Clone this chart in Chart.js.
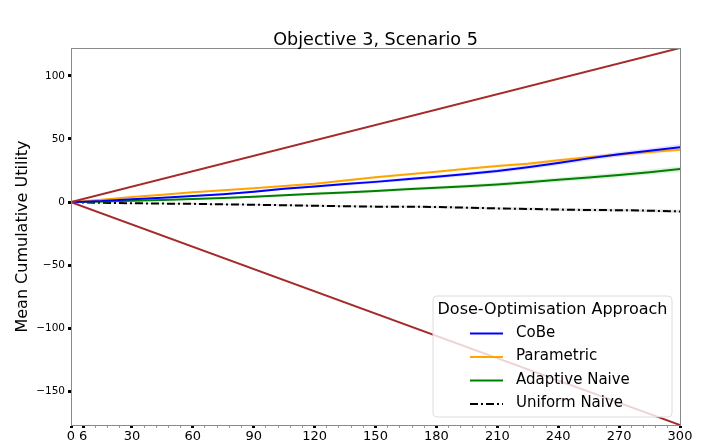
<!DOCTYPE html>
<html>
<head>
<meta charset="utf-8">
<script src="https://cdn.jsdelivr.net/npm/chart.js@4/dist/chart.umd.min.js"></script>
<style>
  html, body { margin: 0; padding: 0; background: #fff; }
  #wrap { width: 711px; height: 445px; }
</style>
</head>
<body>
<div id="wrap"><canvas id="c" width="711" height="445"></canvas></div>
<script>
// ---- data ----
const steps = [0, 6, 15, 30, 45, 60, 75, 90, 105, 120, 135, 150, 165, 180, 195, 210, 225, 240, 255, 270, 285, 300];
const cobe        = [0, 0.3, 0.8, 2.2, 3.4, 4.8, 6.3, 8.2, 10.6, 12.4, 14.3, 16.0, 18.0, 20.0, 22.2, 24.6, 27.6, 31.0, 34.6, 37.8, 40.6, 43.5];
const parametric  = [0, 0.6, 1.8, 4.0, 5.8, 7.8, 9.4, 11.0, 12.8, 14.6, 17.0, 19.6, 21.8, 24.0, 26.4, 28.5, 30.4, 33.2, 35.5, 37.6, 39.6, 41.5];
const adaptive    = [0, 0.1, 0.4, 1.0, 1.6, 2.4, 3.3, 4.3, 5.5, 6.6, 7.6, 8.8, 10.2, 11.3, 12.5, 14.0, 15.8, 17.6, 19.5, 21.4, 23.7, 26.2];
const uniform     = [0, -0.3, -0.6, -0.9, -1.2, -1.4, -1.8, -2.1, -2.5, -2.9, -3.3, -3.6, -3.6, -3.9, -4.4, -5.0, -5.4, -5.9, -6.3, -6.4, -6.8, -7.4];
// half-widths of the shaded uncertainty bands
const cobeBand      = [0, 0.2, 0.3, 0.4, 0.5, 0.6, 0.7, 0.8, 0.9, 1.0, 1.1, 1.2, 1.3, 1.4, 1.5, 1.6, 1.7, 1.8, 1.9, 2.0, 2.1, 2.2];
const parametricBand= [0, 0.2, 0.3, 0.4, 0.5, 0.6, 0.6, 0.7, 0.8, 0.8, 0.9, 1.0, 1.0, 1.1, 1.2, 1.2, 1.3, 1.4, 1.4, 1.5, 1.6, 1.6];
const adaptiveBand  = [0, 0.2, 0.3, 0.4, 0.5, 0.6, 0.7, 0.8, 0.9, 1.0, 1.1, 1.2, 1.3, 1.4, 1.5, 1.6, 1.7, 1.8, 1.9, 2.0, 2.1, 2.2];
const uniformBand   = [0, 0.2, 0.3, 0.4, 0.5, 0.6, 0.6, 0.7, 0.7, 0.8, 0.8, 0.9, 0.9, 1.0, 1.0, 1.0, 1.1, 1.1, 1.2, 1.2, 1.2, 1.3];
// reference bounds (brown lines)
const boundX     = [0, 300];
const upperBound = [0, 122];
const lowerBound = [0, -176.5];

const xMajorTicks = [0, 6, 30, 60, 90, 120, 150, 180, 210, 240, 270, 300];
const xMinorStep = 6;
const yTicks = [-150, -100, -50, 0, 50, 100];
const yMin = -176.5, yMax = 122;

const titleText = 'Objective 3, Scenario 5';
const yLabelText = 'Mean Cumulative Utility';
const legendTitle = 'Dose-Optimisation Approach';

// ---- build datasets ----
function pts(xs, ys) { return xs.map((x, i) => ({ x: x, y: ys[i] })); }
function band(vals, hw, sign) { return vals.map((v, i) => v + sign * hw[i]); }

const series = [
  { label: 'CoBe', vals: cobe, hw: cobeBand, color: '#0000ff', fill: 'rgba(0,0,255,0.12)', dash: [] },
  { label: 'Parametric', vals: parametric, hw: parametricBand, color: '#ffa500', fill: 'rgba(255,165,0,0.12)', dash: [] },
  { label: 'Adaptive Naive', vals: adaptive, hw: adaptiveBand, color: '#008000', fill: 'rgba(0,128,0,0.12)', dash: [] },
  { label: 'Uniform Naive', vals: uniform, hw: uniformBand, color: '#000000', fill: 'rgba(0,0,0,0.12)', dash: [8, 3, 2, 3] }
];

const datasets = [];
series.forEach(s => {
  datasets.push({ label: s.label + ' lo', data: pts(steps, band(s.vals, s.hw, -1)), borderWidth: 0, pointRadius: 0, fill: false, order: 10, isBand: true });
  datasets.push({ label: s.label + ' hi', data: pts(steps, band(s.vals, s.hw, 1)), borderWidth: 0, pointRadius: 0, fill: '-1', backgroundColor: s.fill, order: 10, isBand: true });
});
series.forEach(s => {
  datasets.push({ label: s.label, data: pts(steps, s.vals), borderColor: s.color, backgroundColor: s.color, borderWidth: 2, borderDash: s.dash, pointRadius: 0, fill: false, order: 2, isMain: true });
});
datasets.push({ label: 'upper', data: pts(boundX, upperBound), borderColor: '#a52a2a', borderWidth: 2, pointRadius: 0, fill: false, order: 1 });
datasets.push({ label: 'lower', data: pts(boundX, lowerBound), borderColor: '#a52a2a', borderWidth: 2, pointRadius: 0, fill: false, order: 1 });

const FONT = 'DejaVu Sans';

const decor = {
  id: 'decor',
  afterDraw(chart) {
    const ctx = chart.ctx;
    const a = chart.chartArea;
    ctx.save();
    // frame
    ctx.strokeStyle = '#8a8a8a';
    ctx.lineWidth = 1;
    ctx.strokeRect(Math.round(a.left) + 0.5, Math.round(a.top) + 0.5, Math.round(a.right - a.left), Math.round(a.bottom - a.top));
    // title
    ctx.fillStyle = '#000';
    ctx.font = '17.6px "' + FONT + '"';
    ctx.textAlign = 'center';
    ctx.textBaseline = 'alphabetic';
    ctx.fillText(titleText, (a.left + a.right) / 2, 45);
    // y label
    ctx.save();
    ctx.translate(27, (a.top + a.bottom) / 2);
    ctx.rotate(-Math.PI / 2);
    ctx.font = '16px "' + FONT + '"';
    ctx.textAlign = 'center';
    ctx.textBaseline = 'alphabetic';
    ctx.fillText(yLabelText, 0, 0);
    ctx.restore();
    // legend
    const bx = 433, by = 296, bw = 239, bh = 121, r = 4;
    ctx.beginPath();
    ctx.moveTo(bx + r, by);
    ctx.lineTo(bx + bw - r, by); ctx.quadraticCurveTo(bx + bw, by, bx + bw, by + r);
    ctx.lineTo(bx + bw, by + bh - r); ctx.quadraticCurveTo(bx + bw, by + bh, bx + bw - r, by + bh);
    ctx.lineTo(bx + r, by + bh); ctx.quadraticCurveTo(bx, by + bh, bx, by + bh - r);
    ctx.lineTo(bx, by + r); ctx.quadraticCurveTo(bx, by, bx + r, by);
    ctx.closePath();
    ctx.fillStyle = 'rgba(255,255,255,0.8)';
    ctx.fill();
    ctx.strokeStyle = '#dcdcdc';
    ctx.lineWidth = 1;
    ctx.stroke();
    ctx.fillStyle = '#000';
    ctx.font = '16px "' + FONT + '"';
    ctx.textAlign = 'center';
    ctx.textBaseline = 'middle';
    ctx.fillText(legendTitle, bx + bw / 2, 310);
    const mains = chart.data.datasets.filter(d => d.isMain);
    ctx.font = '15px "' + FONT + '"';
    ctx.textAlign = 'left';
    mains.forEach((d, i) => {
      const y = 333 + i * 23.5;
      ctx.beginPath();
      ctx.setLineDash(d.borderDash || []);
      ctx.strokeStyle = d.borderColor;
      ctx.lineWidth = 2;
      ctx.moveTo(470, y + 0.5);
      ctx.lineTo(503, y + 0.5);
      ctx.stroke();
      ctx.setLineDash([]);
      ctx.fillStyle = '#000';
      ctx.fillText(d.label, 516, y);
    });
    ctx.restore();
  }
};

const xAllTicks = [];
for (let v = 0; v <= 300; v += xMinorStep) xAllTicks.push(v);

new Chart(document.getElementById('c'), {
  type: 'line',
  data: { datasets: datasets },
  options: {
    responsive: false,
    animation: false,
    events: [],
    layout: { padding: { left: 0, right: 31, top: 48, bottom: 0 } },
    plugins: { legend: { display: false }, title: { display: false }, tooltip: { enabled: false } },
    scales: {
      x: {
        type: 'linear', min: 0, max: 300,
        afterBuildTicks: s => { s.ticks = xAllTicks.map(v => ({ value: v })); },
        afterFit: s => { s.height = 20; },
        border: { display: true, color: '#8a8a8a', width: 1 },
        grid: {
          drawOnChartArea: false, drawTicks: true, tickLength: 3,
          tickColor: c => xMajorTicks.includes(c.tick && c.tick.value) ? '#000' : '#999',
          tickWidth: c => xMajorTicks.includes(c.tick && c.tick.value) ? 3 : 1
        },
        ticks: {
          autoSkip: false, maxRotation: 0, minRotation: 0, padding: 1,
          color: '#000', font: { family: FONT, size: 13 },
          callback: v => xMajorTicks.includes(v) ? String(v) : ''
        }
      },
      y: {
        type: 'linear', min: yMin, max: yMax,
        afterBuildTicks: s => { s.ticks = yTicks.map(v => ({ value: v })); },
        afterFit: s => { s.width = 71; },
        border: { display: true, color: '#8a8a8a', width: 1 },
        grid: { drawOnChartArea: false, drawTicks: true, tickLength: 3, tickColor: '#000', tickWidth: 3 },
        ticks: {
          padding: 3, color: '#000', font: { family: FONT, size: 10.5 },
          callback: v => (v < 0 ? '\u2212' + Math.abs(v) : String(v))
        }
      }
    }
  },
  plugins: [decor]
});
</script>
</body>
</html>
